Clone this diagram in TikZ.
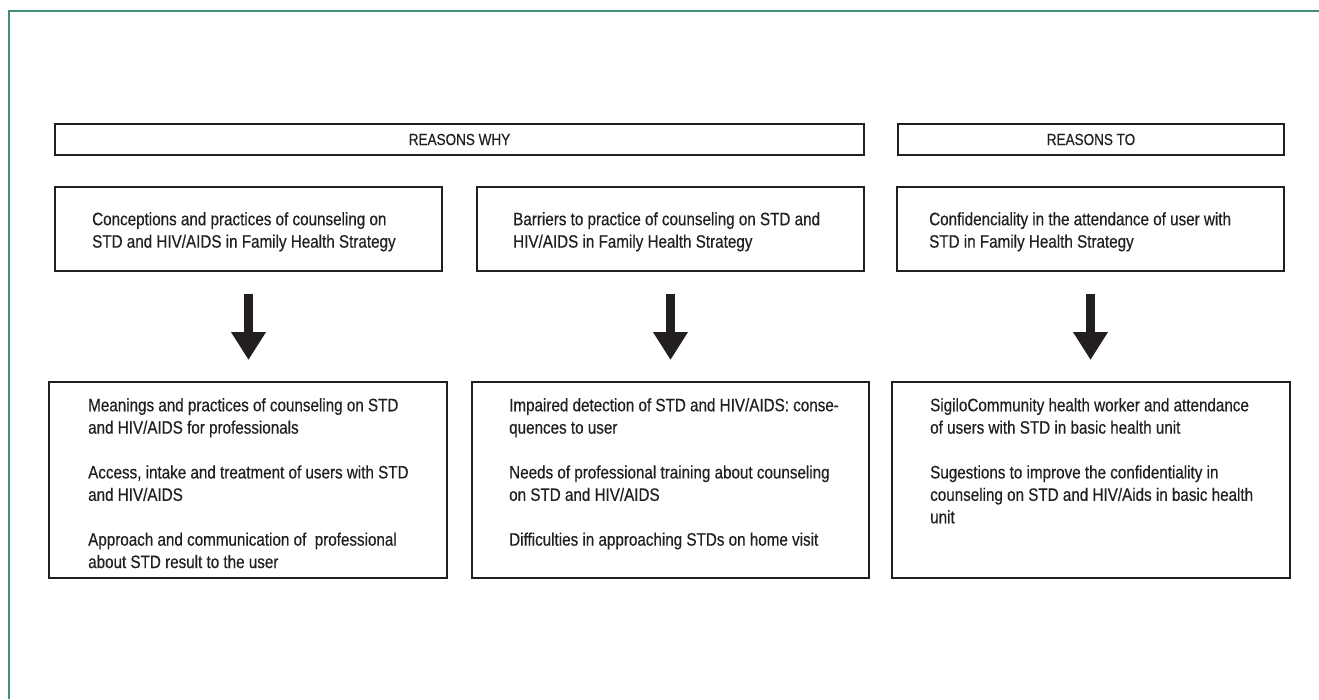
\documentclass[tikz,border=0pt]{standalone}
\usepackage{fontspec}
\setmainfont{Liberation Sans}[FakeStretch=0.845,FakeBold=0.4]
\usetikzlibrary{arrows.meta,calc}
\definecolor{frameteal}{RGB}{70,140,125}
\definecolor{ink}{RGB}{35,31,32}
\begin{document}
\begin{tikzpicture}[x=1pt,y=-1pt,
  boxnode/.style={draw=ink, line width=1.1pt, rectangle, inner sep=0pt, outer sep=0pt},
  headtxt/.style={font=\fontsize{16}{18}\selectfont, text=ink},
  bodytxt/.style={font=\fontsize{18}{22.4}\selectfont, text=ink, align=left, inner sep=0pt, anchor=north west},
  bigarrow/.style={draw=ink, fill=ink, line width=9pt, -{Triangle[width=33pt,length=28pt]}, shorten <=23pt, shorten >=22pt}
]
\useasboundingbox (0,0) rectangle (1319,699);
\fill[white] (0,0) rectangle (1319,699);
% frame
\draw[frameteal, line width=2pt] (9,699) -- (9,11) -- (1319,11);
% headers
\node[boxnode, minimum width=809pt, minimum height=31pt] (hwhy) at (459.5,139.5) {};
\node[headtxt] (hwhyt) at (hwhy.center) {REASONS WHY};
\node[boxnode, minimum width=386pt, minimum height=31pt] (hto) at (1091,139.5) {};
\node[headtxt] (htot) at (hto.center) {REASONS TO};
% row 2
\node[boxnode, minimum width=387pt, minimum height=84pt] (r1) at (248.5,229) {};
\node[boxnode, minimum width=387pt, minimum height=84pt] (r2) at (670.5,229) {};
\node[boxnode, minimum width=387pt, minimum height=84pt] (r3) at (1090.5,229) {};
\node[bodytxt] (t1) at ($(r1.north west)+(37,25)$) {Conceptions and practices of counseling on\\STD and HIV/AIDS in Family Health Strategy};
\node[bodytxt] (t2) at ($(r2.north west)+(36,25)$) {Barriers to practice of counseling on STD and\\HIV/AIDS in Family Health Strategy};
\node[bodytxt] (t3) at ($(r3.north west)+(32,25)$) {Confidenciality in the attendance of user with\\STD in Family Health Strategy};
% bottom boxes
\node[boxnode, minimum width=398pt, minimum height=196pt] (b1) at (248,480) {};
\node[boxnode, minimum width=397pt, minimum height=196pt] (b2) at (670.5,480) {};
\node[boxnode, minimum width=398pt, minimum height=196pt] (b3) at (1091,480) {};
\node[bodytxt] (u1) at ($(b1.north west)+(39,16)$) {Meanings and practices of counseling on STD\\and HIV/AIDS for professionals\\[22.4pt]Access, intake and treatment of users with STD\\and HIV/AIDS\\[22.4pt]Approach and communication of~ professional\\about STD result to the user};
\node[bodytxt] (u2) at ($(b2.north west)+(37,16)$) {Impaired detection of STD and HIV/AIDS: conse-\\quences to user\\[22.4pt]Needs of professional training about counseling\\on STD and HIV/AIDS\\[22.4pt]Difficulties in approaching STDs on home visit};
\node[bodytxt] (u3) at ($(b3.north west)+(38,16)$) {SigiloCommunity health worker and attendance\\of users with STD in basic health unit\\[22.4pt]Sugestions to improve the confidentiality in\\counseling on STD and HIV/Aids in basic health\\unit};
% arrows
\draw[bigarrow] (r1.south) -- (r1.south |- b1.north);
\draw[bigarrow] (r2.south) -- (r2.south |- b2.north);
\draw[bigarrow] (r3.south) -- (r3.south |- b3.north);
\end{tikzpicture}
\end{document}
